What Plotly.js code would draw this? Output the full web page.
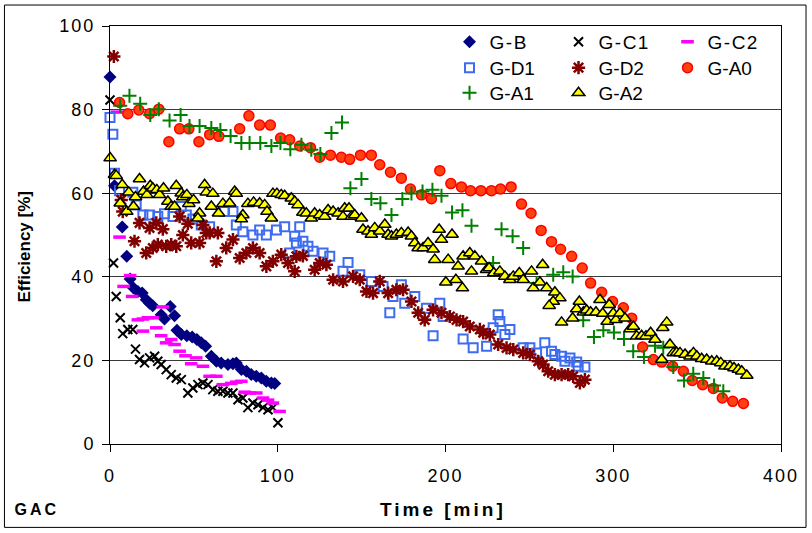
<!DOCTYPE html>
<html>
<head>
<meta charset="utf-8">
<script src="https://cdn.plot.ly/plotly-3.0.1.min.js"></script>
<style>
  html, body { margin: 0; padding: 0; background: #fff; }
  #chart { width: 812px; height: 533px; }
  .xtick text, .ytick text { letter-spacing: 2px; }
  .legendtext { letter-spacing: 1.5px; }
  g.annotation[data-index="1"] text, g.annotation[data-index="2"] text { letter-spacing: 3px; }
</style>
</head>
<body>
<div id="chart"></div>
<script>
// ---- data (time in min, efficiency in %) ----
const seriesNames = ["G-B", "G-C1", "G-C2", "G-D1", "G-D2", "G-A0", "G-A1", "G-A2"];

const gbX = [0, 2.7, 7.3, 10.0, 12.0, 14.0, 16.6, 19.2, 21.6, 23.6, 25.5, 30.5, 32.5, 35.9, 38.5, 39.9, 42.5, 45.8, 49.0, 51.8, 54.4, 57.0, 60.4, 63.4, 66.3, 70.3, 73.3, 75.3, 78.3, 81.3, 84.2, 87.2, 90.2, 93.2, 96.2, 98.2];
const gbY = [87.8, 61.8, 51.9, 44.9, 39.5, 37.3, 36.5, 36.1, 34.5, 33.7, 33.1, 30.9, 29.9, 32.9, 30.7, 27.2, 26.2, 25.9, 25.6, 25.0, 24.2, 23.4, 21.0, 19.8, 19.4, 19.0, 19.2, 19.4, 17.8, 17.4, 16.6, 16.2, 15.8, 15.0, 14.6, 14.5];

const gc1X = [0, 2.1, 3.7, 6.1, 7.6, 10.6, 13.6, 15.2, 17.6, 20.6, 23.6, 26.6, 28.5, 30.5, 33.5, 36.5, 39.5, 42.5, 46.4, 49.4, 52.4, 55.4, 58.4, 61.3, 64.3, 67.3, 70.3, 73.3, 76.3, 79.2, 82.2, 85.2, 88.2, 91.2, 94.2, 97.1, 100.1];
const gc1Y = [82.3, 43.3, 35.3, 30.2, 26.4, 27.4, 27.4, 22.7, 20.2, 19.4, 20.6, 21.0, 19.8, 19.0, 17.8, 16.6, 15.8, 15.4, 12.2, 13.4, 14.2, 14.6, 14.2, 13.0, 12.6, 12.6, 12.2, 12.2, 10.6, 11.0, 8.7, 9.8, 9.4, 8.7, 8.2, 8.7, 5.1];

const gc2X = [4.0, 5.7, 8.1, 12.0, 13.2, 16.6, 19.6, 19.6, 22.6, 25.5, 27.6, 30.5, 31.5, 33.5, 36.5, 38.5, 41.5, 45.0, 48.4, 51.4, 55.4, 59.4, 63.4, 67.3, 72.3, 75.3, 78.3, 80.3, 83.2, 87.2, 91.2, 94.2, 97.1, 101.1];
const gc2Y = [79.4, 49.5, 37.7, 40.3, 35.3, 29.7, 29.9, 27.0, 30.2, 30.2, 27.8, 25.9, 32.8, 24.2, 25.0, 23.8, 22.2, 21.1, 19.2, 20.6, 18.6, 16.2, 16.2, 14.2, 14.5, 14.8, 15.0, 12.4, 12.2, 12.2, 11.0, 10.5, 9.8, 7.8];

const gd1X = [0, 1.7, 2.7, 5.7, 13.6, 15.6, 19.6, 23.6, 28.5, 32.5, 37.5, 42.5, 45.5, 49.4, 54.4, 59.4, 68.3, 73.3, 75.3, 79.2, 85.2, 89.2, 93.2, 99.2, 104.1, 107.1, 110.1, 111.1, 113.1, 115.0, 118.0, 121.0, 127.0, 131.0, 138.9, 141.9, 148.9, 155.8, 162.8, 166.8, 168.7, 173.7, 175.7, 181.7, 188.6, 192.6, 196.6, 198.6, 210.5, 216.5, 224.5, 228.4, 231.4, 232.4, 235.4, 238.4, 246.3, 250.3, 254.3, 259.2, 263.2, 265.2, 269.2, 271.2, 274.2, 278.2, 279.1, 283.1];
const gd1Y = [78.1, 74.1, 64.8, 60.6, 60.2, 57.2, 54.8, 54.8, 54.4, 55.1, 54.4, 56.8, 54.8, 53.8, 52.4, 52.0, 55.6, 55.6, 52.4, 50.8, 50.0, 51.2, 50.0, 51.2, 52.0, 45.7, 49.7, 48.1, 52.0, 48.5, 47.3, 46.1, 45.7, 44.9, 41.3, 43.4, 40.5, 38.9, 37.7, 31.4, 35.3, 38.1, 33.7, 35.3, 32.5, 25.9, 33.7, 30.5, 25.1, 23.0, 23.4, 27.8, 30.9, 29.3, 26.2, 27.4, 23.0, 23.0, 21.8, 24.2, 22.2, 21.4, 21.0, 19.8, 20.6, 19.6, 18.6, 18.4];

const gd2X = [2.3, 6.7, 7.6, 14.6, 17.6, 21.6, 23.6, 25.5, 27.6, 28.5, 31.5, 33.5, 36.5, 39.5, 41.5, 43.4, 46.4, 48.4, 53.4, 55.4, 57.4, 59.4, 63.4, 64.3, 69.3, 73.3, 77.3, 81.3, 85.2, 89.2, 93.2, 97.1, 102.1, 106.1, 110.1, 111.1, 115.0, 122.0, 125.0, 129.0, 133.0, 138.9, 144.9, 148.9, 152.9, 156.8, 160.8, 165.8, 170.7, 174.7, 179.7, 183.7, 187.6, 192.6, 197.6, 202.6, 206.6, 210.5, 214.5, 220.5, 222.5, 226.4, 231.4, 236.4, 240.4, 246.3, 250.3, 255.3, 258.2, 261.2, 265.2, 269.2, 273.1, 276.1, 280.1, 283.1];
const gd2Y = [92.7, 58.4, 55.6, 48.5, 52.9, 45.7, 51.7, 46.9, 52.9, 47.7, 51.4, 47.3, 47.7, 47.3, 54.4, 50.0, 52.7, 48.1, 48.1, 52.4, 50.5, 50.5, 43.7, 50.5, 46.9, 48.9, 44.5, 45.7, 46.9, 45.7, 42.5, 43.7, 45.3, 43.3, 41.3, 44.9, 45.0, 41.7, 43.3, 42.9, 39.3, 38.9, 40.1, 39.3, 36.5, 36.1, 38.9, 36.1, 36.9, 36.9, 34.1, 31.4, 29.7, 32.1, 31.4, 30.5, 29.7, 29.3, 28.1, 27.4, 26.6, 26.2, 23.8, 23.0, 22.6, 21.8, 21.4, 19.8, 19.0, 17.4, 16.6, 16.6, 16.6, 16.2, 14.6, 15.4];

const ga0X = [5.7, 10.6, 17.2, 23.6, 29.1, 35.1, 41.5, 47.0, 53.0, 59.4, 64.9, 77.3, 82.8, 89.2, 95.6, 101.7, 107.1, 113.1, 119.5, 125.0, 131.4, 137.9, 142.9, 149.3, 155.8, 160.8, 167.2, 173.7, 179.1, 185.7, 191.6, 196.6, 203.2, 209.5, 214.9, 221.1, 227.4, 232.8, 239.1, 245.3, 251.0, 257.0, 263.2, 268.6, 275.2, 281.5, 286.5, 293.1, 299.6, 306.0, 311.0, 317.5, 323.9, 328.9, 335.4, 341.8, 347.1, 353.3, 359.7, 365.0, 371.2, 377.6];
const ga0Y = [81.7, 79.0, 79.9, 79.0, 80.1, 72.3, 75.4, 75.4, 72.3, 74.0, 73.6, 75.4, 78.5, 76.3, 76.3, 73.2, 72.8, 71.3, 70.9, 68.6, 69.1, 68.6, 68.1, 69.1, 69.1, 66.8, 65.0, 63.6, 61.0, 59.6, 58.7, 65.4, 62.3, 61.5, 60.6, 60.6, 60.6, 61.0, 61.5, 57.4, 55.2, 51.1, 48.4, 46.6, 44.9, 42.1, 38.5, 36.3, 34.1, 32.6, 30.1, 23.2, 20.2, 19.6, 18.6, 17.4, 15.2, 14.2, 13.3, 11.0, 10.2, 9.7];

const ga1X = [6.1, 11.6, 18.0, 24.0, 29.1, 35.5, 42.1, 47.4, 53.4, 60.4, 65.8, 71.9, 78.3, 83.2, 89.6, 96.2, 101.6, 107.5, 114.1, 120.0, 125.4, 132.0, 138.3, 143.3, 149.9, 155.8, 161.2, 167.8, 174.3, 179.7, 186.3, 192.2, 197.6, 203.9, 210.1, 215.5, 228.4, 233.4, 240.0, 246.3, 254.3, 264.2, 270.2, 275.8, 282.1, 288.5, 294.1, 300.4, 306.4, 311.9, 318.3, 324.9, 329.8, 335.8, 342.2, 347.7, 353.7, 360.1, 365.6];
const ga1Y = [80.9, 83.3, 81.4, 78.7, 80.1, 77.4, 78.7, 76.1, 76.1, 75.6, 75.1, 73.7, 72.0, 72.0, 72.0, 71.3, 72.0, 70.5, 71.6, 70.4, 69.4, 74.4, 76.9, 61.2, 63.4, 58.6, 57.6, 54.8, 58.6, 59.9, 60.4, 60.8, 59.4, 55.4, 55.9, 52.2, 43.3, 51.4, 49.7, 46.9, 38.5, 40.5, 41.1, 40.1, 29.6, 25.6, 27.2, 26.7, 25.1, 22.2, 20.8, 23.5, 23.0, 18.4, 15.2, 16.8, 15.8, 14.0, 12.6];

const ga2X = [0.1, 2.7, 3.7, 7.3, 11.2, 6.1, 10.0, 14.0, 15.2, 17.6, 20.0, 22.0, 24.0, 25.5, 27.9, 29.5, 31.9, 34.5, 36.5, 38.5, 39.5, 42.5, 43.4, 45.8, 47.0, 49.8, 53.4, 52.4, 56.4, 57.4, 61.3, 60.4, 64.7, 67.3, 71.3, 74.3, 75.3, 79.2, 78.3, 82.2, 85.6, 89.2, 92.2, 93.6, 96.2, 97.1, 99.5, 102.1, 104.1, 108.1, 110.1, 112.1, 115.0, 117.0, 120.0, 122.0, 125.0, 128.0, 130.0, 133.0, 136.0, 138.9, 139.9, 142.5, 143.9, 145.9, 149.9, 150.8, 153.8, 155.8, 157.8, 160.8, 163.8, 165.8, 167.8, 170.7, 173.7, 177.7, 179.7, 181.7, 183.7, 186.6, 189.6, 192.6, 193.6, 196.2, 197.6, 201.6, 203.9, 200.2, 206.2, 210.1, 207.5, 210.5, 214.5, 215.5, 217.5, 221.5, 224.5, 226.0, 228.8, 232.4, 235.4, 238.4, 240.4, 244.0, 246.3, 251.3, 257.9, 252.3, 256.3, 260.3, 265.2, 268.2, 264.2, 261.8, 269.2, 275.8, 278.2, 279.8, 282.2, 284.1, 286.5, 289.7, 292.1, 293.7, 297.6, 296.4, 300.0, 301.6, 304.0, 307.0, 310.0, 312.0, 314.0, 316.9, 319.5, 322.3, 324.9, 329.5, 331.9, 328.9, 333.8, 335.8, 337.8, 339.8, 342.8, 345.8, 347.8, 349.8, 352.7, 355.7, 358.7, 361.7, 364.1, 366.6, 369.6, 372.0, 374.6, 376.6, 379.6];
const ga2Y = [68.4, 64.4, 64.2, 62.0, 60.2, 57.6, 55.6, 56.8, 59.1, 63.4, 60.4, 59.6, 61.8, 61.2, 60.8, 59.6, 61.2, 58.0, 56.8, 56.8, 61.8, 60.0, 59.1, 59.6, 57.5, 58.4, 55.2, 54.0, 62.0, 60.2, 59.9, 56.8, 55.2, 57.5, 57.6, 60.4, 59.9, 54.8, 53.8, 57.5, 57.8, 57.6, 57.2, 55.6, 54.0, 59.9, 59.9, 59.6, 59.4, 58.8, 58.0, 57.2, 55.4, 55.2, 54.0, 55.2, 54.8, 54.4, 56.0, 55.6, 55.2, 54.4, 56.4, 56.4, 54.4, 54.8, 54.0, 51.3, 50.9, 50.1, 51.7, 50.9, 52.5, 50.1, 49.7, 50.1, 50.5, 50.6, 49.7, 48.1, 46.9, 46.9, 48.1, 46.6, 44.1, 51.3, 48.9, 44.1, 50.1, 38.7, 39.3, 37.3, 42.5, 44.9, 45.7, 41.3, 44.9, 43.7, 41.7, 42.1, 40.9, 41.3, 40.1, 39.3, 40.1, 40.9, 39.3, 41.3, 42.9, 37.3, 38.7, 37.3, 36.3, 34.9, 34.1, 33.1, 29.1, 30.1, 32.3, 34.1, 31.5, 32.0, 31.5, 31.5, 34.5, 31.2, 33.3, 29.3, 31.3, 29.7, 31.3, 30.1, 27.5, 28.1, 25.8, 25.9, 25.8, 26.6, 25.0, 27.8, 29.1, 20.2, 23.8, 21.8, 21.9, 21.8, 21.4, 21.0, 21.8, 21.0, 20.4, 20.2, 19.8, 19.8, 19.4, 18.6, 18.6, 18.2, 17.8, 17.4, 16.4];

const xTicks = [0, 100, 200, 300, 400];
const yTicks = [0, 20, 40, 60, 80, 100];
const xTitle = "Time [min]";
const yTitle = "Efficiency [%]";
const cornerLabel = "GAC";

// ---- traces ----
const FONT = "Liberation Sans, Arial, Helvetica, sans-serif";
function tr(name, x, y, marker, legend) {
  return { type: "scatter", mode: "markers", name: name, x: x, y: y, marker: marker, legend: legend, cliponaxis: false };
}
const data = [
  tr(seriesNames[0], gbX, gbY, { symbol: "diamond", size: 10, color: "#000080" }, "legend"),
  tr(seriesNames[1], gc1X, gc1Y, { symbol: "x-thin-open", size: 9, color: "#000000", line: { width: 2, color: "#000000" } }, "legend"),
  tr(seriesNames[2], gc2X, gc2Y, { symbol: "line-ew-open", size: 9, color: "#ff00ff", line: { width: 3.5, color: "#ff00ff" } }, "legend"),
  tr(seriesNames[3], gd1X, gd1Y, { symbol: "square-open", size: 9, color: "#3d6cf0", line: { width: 2, color: "#3d6cf0" } }, "legend2"),
  tr(seriesNames[4], gd2X, gd2Y, { symbol: "asterisk-open", size: 11, color: "#800000", line: { width: 2.5, color: "#800000" } }, "legend2"),
  tr(seriesNames[5], ga0X, ga0Y, { symbol: "circle", size: 10, color: "#ff4010", line: { width: 1.5, color: "#ff0000" } }, "legend2"),
  tr(seriesNames[6], ga1X, ga1Y, { symbol: "cross-thin-open", size: 10, color: "#008000", line: { width: 2, color: "#008000" } }, "legend3"),
  tr(seriesNames[7], ga2X, ga2Y, { symbol: "triangle-up", size: 11, color: "#ffff00", line: { width: 1.5, color: "#000000" } }, "legend3")
];

function leg(y) {
  return {
    orientation: "h", x: 0.506, y: y, xanchor: "left", yanchor: "middle",
    xref: "paper", yref: "paper",
    entrywidth: 64, entrywidthmode: "pixels",
    font: { family: FONT, size: 19, color: "#000" },
    bgcolor: "rgba(0,0,0,0)", borderwidth: 0, traceorder: "normal"
  };
}

const layout = {
  width: 812, height: 533,
  margin: { l: 110, r: 31, t: 26, b: 88.5 },
  paper_bgcolor: "#ffffff", plot_bgcolor: "#ffffff",
  font: { family: FONT, size: 18, color: "#000" },
  showlegend: true,
  legend: leg(0.962),
  legend2: leg(0.900),
  legend3: leg(0.840),
  xaxis: {
    range: [0, 400], tickvals: xTicks, ticktext: xTicks.map(String),
    ticks: "outside", ticklen: 7, tickcolor: "#000", tickwidth: 1,
    showline: true, linecolor: "#000", linewidth: 1, mirror: true,
    showgrid: false, zeroline: false,
    tickfont: { family: FONT, size: 18, color: "#000" },
    ticklabelstandoff: 8
  },
  yaxis: {
    range: [0, 100], tickvals: yTicks, ticktext: yTicks.map(String),
    ticks: "outside", ticklen: 7, tickcolor: "#000", tickwidth: 1,
    showline: true, linecolor: "#000", linewidth: 1, mirror: true,
    showgrid: true, gridcolor: "#3a3a3a", gridwidth: 1, zeroline: false,
    tickfont: { family: FONT, size: 18, color: "#000" },
    ticklabelstandoff: 3
  },
  annotations: [
    { text: "<b>" + yTitle + "</b>", xref: "paper", yref: "paper", x: -0.127, y: 0.472,
      textangle: -90, showarrow: false, xanchor: "center", yanchor: "middle",
      font: { family: FONT, size: 17, color: "#000" } },
    { text: "<b>" + xTitle + "</b>", xref: "paper", yref: "paper", x: 0.4966, y: -0.1565,
      showarrow: false, xanchor: "center", yanchor: "middle",
      font: { family: FONT, size: 19, color: "#000" } },
    { text: "<b>" + cornerLabel + "</b>", xref: "paper", yref: "paper", x: -0.138, y: -0.1565,
      showarrow: false, xanchor: "left", yanchor: "middle",
      font: { family: FONT, size: 16, color: "#000" } }
  ],
  shapes: [
    { type: "rect", xref: "paper", yref: "paper", x0: -0.1573, x1: 1.0373, y0: -0.1995, y1: 1.0502,
      line: { color: "#000", width: 1 }, fillcolor: "rgba(0,0,0,0)", layer: "below" }
  ]
};

Plotly.newPlot("chart", data, layout, { displayModeBar: false, staticPlot: true });
</script>
</body>
</html>
